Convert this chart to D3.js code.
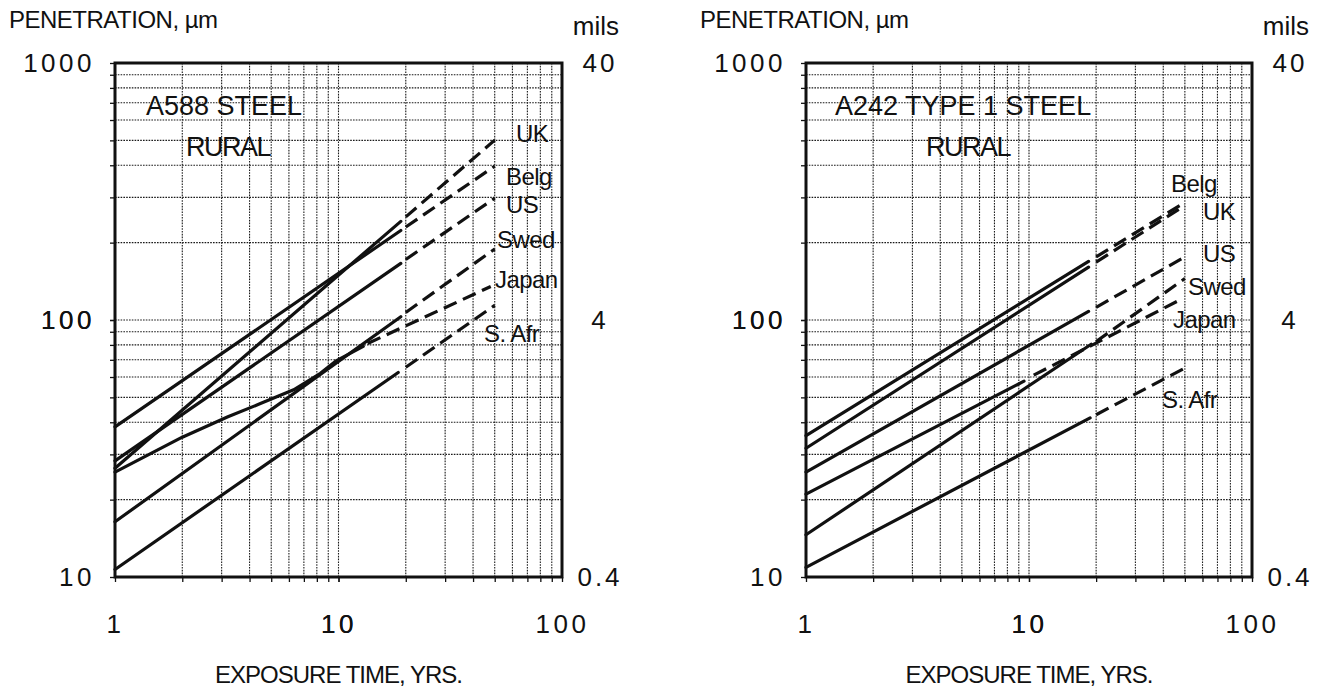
<!DOCTYPE html>
<html>
<head>
<meta charset="utf-8">
<script src="https://cdn.jsdelivr.net/npm/d3@7"></script>
<style>
  body { margin: 0; background: #fff; }
  text { font-family: "Liberation Sans", Arial, Helvetica, sans-serif; fill: #111; }
</style>
</head>
<body>
<div id="chart"></div>
<script>
// tick values and grid
var xGrid = [2, 3, 4, 5, 6, 7, 8, 9, 10, 20, 30, 40, 50, 60, 70, 80, 90];
var yGrid = [20, 30, 40, 50, 60, 70, 80, 90, 100, 200, 300, 400, 500, 600, 700, 800, 900];
var xLabels = [1, 10, 100];
var yLabels = [10, 100, 1000];
var milsLabels = [0.4, 4, 40];

var countries = ["UK", "Belg", "US", "Swed", "Japan", "S. Afr"];

// A588 steel, rural: measured part (solid) and extrapolation (dashed), [years, um]
var a588Measured = [
  [[1, 26.5], [19, 242]],
  [[1, 38.4], [19, 223]],
  [[1, 28.3], [19, 166]],
  [[1, 16.4], [19, 103]],
  [[1, 25.6], [2, 35], [3.2, 42], [4.5, 47.4], [6.3, 53.5], [8.3, 62], [9.8, 69.5], [12.9, 79]],
  [[1, 10.7], [18.5, 62.5]]
];
var a588Projected = [
  [[20, 252], [50, 501]],
  [[20, 230], [50, 397]],
  [[20, 172], [50, 298]],
  [[20, 107], [50, 189]],
  [[13.5, 81], [48, 135]],
  [[20, 65.5], [50, 114]]
];

// A242 type 1 steel, rural
var a242Measured = [
  [[1, 31.7], [18.5, 160.6]],
  [[1, 35.5], [18.5, 169]],
  [[1, 25.6], [18.5, 108]],
  [[1, 14.6], [19, 80.5]],
  [[1, 21.0], [9.5, 57.8]],
  [[1, 10.9], [18.8, 41.6]]
];
var a242Projected = [
  [[20, 168], [50, 279]],
  [[20, 176], [50, 287]],
  [[20, 112], [50, 176]],
  [[20, 82.5], [50, 145]],
  [[10.5, 61], [46, 118]],
  [[20, 42.8], [50, 65]]
];

var svgWidth = 1320;
var svgHeight = 693;

var svg = d3.select("#chart")
  .append("svg")
  .attr("width", svgWidth)
  .attr("height", svgHeight);

var font = '"Liberation Sans", Arial, Helvetica, sans-serif';

function drawPanel(cfg) {
  var x = d3.scaleLog().domain([1, 100]).range([cfg.left, cfg.right]);
  var y = d3.scaleLog().domain([10, 1000]).range([cfg.bottom, cfg.top]);
  var yMils = d3.scaleLog().domain([0.4, 40]).range([cfg.bottom, cfg.top]);

  var g = svg.append("g");

  // dotted grid
  g.selectAll(".vgrid").data(xGrid).enter().append("line")
    .attr("x1", d => x(d)).attr("x2", d => x(d))
    .attr("y1", cfg.top).attr("y2", cfg.bottom)
    .attr("stroke", "#1a1a1a").attr("stroke-width", 1.1)
    .attr("stroke-dasharray", "1.6,1.2");

  g.selectAll(".hgrid").data(yGrid).enter().append("line")
    .attr("y1", d => y(d)).attr("y2", d => y(d))
    .attr("x1", cfg.left).attr("x2", cfg.right)
    .attr("stroke", "#1a1a1a").attr("stroke-width", 1.1)
    .attr("stroke-dasharray", "1.6,1.2");

  // axes
  var leftAxis = d3.axisLeft(y)
    .tickValues(yLabels.concat(yGrid))
    .tickSize(5).tickPadding(15)
    .tickFormat(d => yLabels.indexOf(d) >= 0 ? d : "");
  var la = g.append("g").attr("transform", `translate(${cfg.left},0)`).call(leftAxis);

  var bottomAxis = d3.axisBottom(x)
    .tickValues(xLabels.concat(xGrid))
    .tickSize(5).tickPadding(33)
    .tickFormat(d => xLabels.indexOf(d) >= 0 ? d : "");
  var ba = g.append("g").attr("transform", `translate(0,${cfg.bottom})`).call(bottomAxis);

  var rightAxis = d3.axisRight(yMils)
    .tickValues(milsLabels)
    .tickSize(0).tickPadding(38)
    .tickFormat(d => d);
  var ra = g.append("g").attr("transform", `translate(${cfg.right},0)`).call(rightAxis);

  [la, ba, ra].forEach(function(a) {
    a.select(".domain").remove();
    a.selectAll("line").attr("stroke", "#111").attr("stroke-width", 1.3);
    a.selectAll("text")
      .attr("font-family", font)
      .attr("font-size", 26)
      .attr("letter-spacing", 3.5)
      .attr("fill", "#111");
  });
  ra.selectAll("text").attr("text-anchor", "middle").attr("letter-spacing", 3);

  // frame
  g.append("rect")
    .attr("x", cfg.left).attr("y", cfg.top)
    .attr("width", cfg.right - cfg.left).attr("height", cfg.bottom - cfg.top)
    .attr("fill", "none").attr("stroke", "#111").attr("stroke-width", 3);

  // lines
  var line = d3.line().x(d => x(d[0])).y(d => y(d[1]));

  g.selectAll(".measured").data(cfg.measured).enter().append("path")
    .attr("d", line)
    .attr("fill", "none").attr("stroke", "#111")
    .attr("stroke-width", 3.2).attr("stroke-linecap", "round")
    .attr("stroke-linejoin", "round");

  g.selectAll(".projected").data(cfg.projected).enter().append("path")
    .attr("d", line)
    .attr("fill", "none").attr("stroke", "#111")
    .attr("stroke-width", 3.2)
    .attr("stroke-dasharray", "14,7");

  // country labels
  g.selectAll(".country").data(countries).enter().append("text")
    .attr("x", (d, i) => cfg.labelPos[i][0])
    .attr("y", (d, i) => cfg.labelPos[i][1])
    .attr("font-size", 24)
    .attr("letter-spacing", -0.6)
    .text(d => d);

  // panel title
  g.append("text")
    .attr("x", cfg.title[1]).attr("y", 115)
    .attr("font-size", 27).attr("letter-spacing", 0)
    .text(cfg.title[0]);
  g.append("text")
    .attr("x", cfg.rural).attr("y", 156)
    .attr("text-anchor", "middle")
    .attr("font-size", 27).attr("letter-spacing", -1.5)
    .text("RURAL");

  // axis titles
  g.append("text")
    .attr("x", cfg.left - 106).attr("y", 28)
    .attr("font-size", 24).attr("letter-spacing", -0.5)
    .text("PENETRATION, \u00b5m");
  g.append("text")
    .attr("x", cfg.right + 57).attr("y", 35)
    .attr("text-anchor", "end")
    .attr("font-size", 26)
    .text("mils");
  g.append("text")
    .attr("x", (cfg.left + cfg.right) / 2).attr("y", 683)
    .attr("text-anchor", "middle")
    .attr("font-size", 24).attr("letter-spacing", -1)
    .text("EXPOSURE TIME, YRS.");
}

drawPanel({
  left: 115, right: 562, top: 63, bottom: 577,
  measured: a588Measured, projected: a588Projected,
  title: ["A588 STEEL", 146], rural: 228,
  labelPos: [[516, 142], [506, 185], [506, 213], [497, 248], [495, 288], [484, 342]]
});

drawPanel({
  left: 806, right: 1252, top: 63, bottom: 577,
  measured: a242Measured, projected: a242Projected,
  title: ["A242 TYPE 1 STEEL", 835], rural: 968,
  labelPos: [[1203, 220], [1171, 192], [1203, 262], [1188, 295], [1173, 328], [1162, 408]]
});
</script>
</body>
</html>
